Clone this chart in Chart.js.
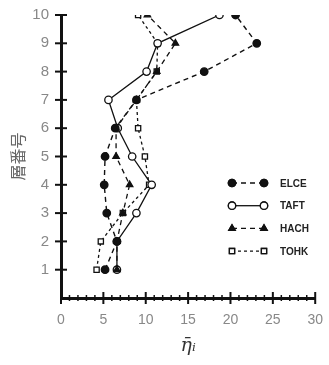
<!DOCTYPE html>
<html>
<head>
<meta charset="utf-8">
<script src="https://cdn.jsdelivr.net/npm/chart.js@4"></script>
<style>
  html, body { margin: 0; padding: 0; background: #fff; }
  #wrap { width: 329px; height: 365px; }
</style>
</head>
<body>
<div id="wrap"><canvas id="myChart" width="329" height="365"></canvas></div>
<script>
// 層番号 (story number)
const layers = [1, 2, 3, 4, 5, 6, 7, 8, 9, 10];
const elce = [5.2, 6.6, 5.4, 5.1, 5.2, 6.4, 8.9, 16.9, 23.1, 20.6];
const taft = [6.6, 6.6, 8.9, 10.7, 8.4, 6.7, 5.6, 10.1, 11.4, 18.7];
const hach = [6.6, 6.6, 7.3, 8.1, 6.5, 6.5, 8.9, 11.3, 13.5, 10.2];
const tohk = [4.2, 4.7, 7.3, 10.4, 9.9, 9.1, 8.9, 11.3, 11.4, 9.1];
const names = ["ELCE", "TAFT", "HACH", "TOHK"];
const xTicks = [0, 5, 10, 15, 20, 25, 30];

function pts(arr) {
  return layers.map((l, i) => ({x: arr[i], y: l}));
}

// legend drawn inside the plot, at the right side
const innerLegend = {
  id: 'innerLegend',
  afterDatasetsDraw(chart) {
    const c = chart.ctx;
    const sets = chart.data.datasets;
    c.save();
    sets.forEach((ds, i) => {
      const y = 183 + i * 22.7;
      const x1 = 232, x2 = 264;
      c.strokeStyle = '#111';
      c.lineWidth = 1.3;
      c.setLineDash(ds.borderDash || []);
      c.beginPath(); c.moveTo(x1, y); c.lineTo(x2, y); c.stroke();
      c.setLineDash([]);
      [x1, x2].forEach(x => {
        Chart.helpers.drawPoint(c, {
          pointStyle: ds.pointStyle, radius: ds.pointRadius, borderWidth: 1.2
        }, x, y);
        c.fillStyle = ds.pointBackgroundColor;
        c.strokeStyle = '#111';
        c.fill(); c.stroke();
      });
      c.fillStyle = '#222';
      c.font = 'bold 10px "Liberation Sans"';
      c.textBaseline = 'middle';
      c.fillText(ds.label, 280, y + 1);
    });
    c.restore();
  }
};

// tick marks crossing the axis lines
const crossTicks = {
  id: 'crossTicks',
  afterDraw(chart) {
    const c = chart.ctx;
    const xs = chart.scales.x, ys = chart.scales.y;
    c.save();
    c.strokeStyle = '#111';
    c.lineWidth = 2;
    for (let v = 1; v <= 10; v++) {
      const py = ys.getPixelForValue(v);
      c.beginPath(); c.moveTo(xs.left - 6, py); c.lineTo(xs.left + 6, py); c.stroke();
    }
    for (let v = 0; v <= 30; v++) {
      const px = xs.getPixelForValue(v);
      const h = v % 5 === 0 ? 6 : 3;
      c.lineWidth = v % 5 === 0 ? 2 : 1.5;
      c.beginPath(); c.moveTo(px, ys.bottom - h); c.lineTo(px, ys.bottom + h); c.stroke();
    }
    c.restore();
  }
};

var ctx = document.getElementById('myChart').getContext('2d');
var chart = new Chart(ctx, {
  type: 'line',
  data: {
    datasets: [{
      label: names[0],
      data: pts(elce),
      order: 0,
      borderColor: '#111',
      borderWidth: 1.4,
      borderDash: [5, 4],
      pointStyle: 'circle',
      pointRadius: 3.7,
      pointBackgroundColor: '#111',
      pointBorderColor: '#111'
    }, {
      label: names[1],
      data: pts(taft),
      order: 2,
      borderColor: '#111',
      borderWidth: 1.3,
      borderDash: [],
      pointStyle: 'circle',
      pointRadius: 3.7,
      pointBackgroundColor: '#fff',
      pointBorderColor: '#111'
    }, {
      label: names[2],
      data: pts(hach),
      order: 1,
      borderColor: '#111',
      borderWidth: 1.3,
      borderDash: [5, 4],
      pointStyle: 'triangle',
      pointRadius: 3.7,
      pointBackgroundColor: '#111',
      pointBorderColor: '#111'
    }, {
      label: names[3],
      data: pts(tohk),
      order: 3,
      borderColor: '#111',
      borderWidth: 1.3,
      borderDash: [3, 3],
      pointStyle: 'rect',
      pointRadius: 3.7,
      pointBackgroundColor: '#fff',
      pointBorderColor: '#111'
    }]
  },
  options: {
    responsive: false,
    animation: false,
    layout: { padding: { top: 15, right: 13, left: 0, bottom: 4 } },
    plugins: { legend: { display: false }, tooltip: { enabled: false } },
    elements: { line: { tension: 0 }, point: { borderWidth: 1.2 } },
    scales: {
      x: {
        type: 'linear',
        min: 0, max: 30,
        afterFit: s => { s.height = 63; },
        afterBuildTicks: s => { s.ticks = xTicks.map(v => ({value: v})); },
        grid: { display: false },
        border: { display: true, color: '#111', width: 3 },
        ticks: { color: '#888', font: { family: 'Liberation Sans', size: 14 }, padding: 6 },
        title: {
          display: true, text: 'η̄ᵢ', color: '#333',
          font: { family: 'DejaVu Serif', size: 19, style: 'italic' }, padding: { top: 4 }
        }
      },
      y: {
        type: 'linear',
        min: 0, max: 10,
        afterFit: s => { s.width = 61; },
        ticks: {
          stepSize: 1, color: '#888', padding: 4,
          font: { family: 'Liberation Sans', size: 15 },
          callback: v => v === 0 ? '' : v
        },
        grid: { display: false },
        border: { display: true, color: '#111', width: 3 },
        title: {
          display: true, text: '層番号', color: '#666',
          font: { family: 'Noto Sans CJK JP', size: 16 }, padding: { top: 8, bottom: 0 }
        }
      }
    }
  },
  plugins: [crossTicks, innerLegend]
});
</script>
</body>
</html>
